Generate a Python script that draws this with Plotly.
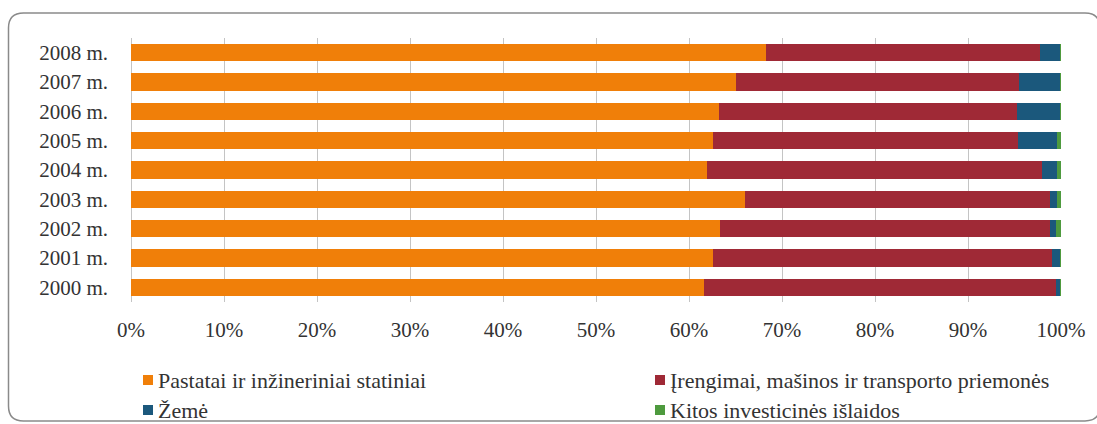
import plotly.graph_objects as go

# Investment structure by year (shares, %)
years = ["2000 m.", "2001 m.", "2002 m.", "2003 m.", "2004 m.",
         "2005 m.", "2006 m.", "2007 m.", "2008 m."]
series_names = [
    "Pastatai ir inžineriniai statiniai",
    "Įrengimai, mašinos ir transporto priemonės",
    "Žemė",
    "Kitos investicinės išlaidos",
]
pastatai = [61.6, 62.6, 63.3, 66.0, 61.9, 62.6, 63.2, 65.0, 68.3]
irengimai = [37.9, 36.4, 35.5, 32.8, 36.1, 32.8, 32.1, 30.5, 29.4]
zeme = [0.4, 0.9, 0.7, 0.8, 1.6, 4.2, 4.6, 4.4, 2.2]
kitos = [0.1, 0.1, 0.5, 0.4, 0.4, 0.4, 0.1, 0.1, 0.1]
x_ticks = [0, 10, 20, 30, 40, 50, 60, 70, 80, 90, 100]
x_tick_labels = ["0%", "10%", "20%", "30%", "40%", "50%",
                 "60%", "70%", "80%", "90%", "100%"]

colors = ["#F07F09", "#9F2936", "#1B587C", "#4E9A3E"]
values = [pastatai, irengimai, zeme, kitos]

W, H = 1097, 424
M_L, M_R, M_T, M_B = 131, 36, 38, 122
PW, PH = W - M_L - M_R, H - M_T - M_B

FONT = "Liberation Serif"
FS = 21
FS_LEG = 22
TXT = "#333333"

fig = go.Figure()
for name, vals, col in zip(series_names, values, colors):
    fig.add_trace(go.Bar(
        y=years, x=vals, name=name, orientation="h",
        marker=dict(color=col, line=dict(width=0)),
        showlegend=False,
    ))


def px_x(p):
    return (p - M_L) / PW


def px_y(p):
    return (M_T + PH - p) / PH


# Rounded outer frame
x0, y0, x1, y1, r = 8.5, 13, 1100, 421, 15
path = (
    f"M {px_x(x0)},{px_y(y0 + r)} "
    f"Q {px_x(x0)},{px_y(y0)} {px_x(x0 + r)},{px_y(y0)} "
    f"L {px_x(x1 - r)},{px_y(y0)} "
    f"Q {px_x(x1)},{px_y(y0)} {px_x(x1)},{px_y(y0 + r)} "
    f"L {px_x(x1)},{px_y(y1 - r)} "
    f"Q {px_x(x1)},{px_y(y1)} {px_x(x1 - r)},{px_y(y1)} "
    f"L {px_x(x0 + r)},{px_y(y1)} "
    f"Q {px_x(x0)},{px_y(y1)} {px_x(x0)},{px_y(y1 - r)} Z"
)
shapes = [dict(type="path", xref="paper", yref="paper", path=path,
               line=dict(color="#8a8a8a", width=1.5), layer="below")]

# Two-column legend: squares and labels
annotations = []
legend_pos = [(143, 380), (655, 380), (143, 410), (655, 410)]
for (lx, ly), name, col in zip(legend_pos, series_names, colors):
    shapes.append(dict(type="rect", xref="paper", yref="paper",
                       x0=px_x(lx), x1=px_x(lx + 10),
                       y0=px_y(ly + 5), y1=px_y(ly - 5),
                       fillcolor=col, line=dict(width=0)))
    annotations.append(dict(xref="paper", yref="paper",
                            x=px_x(lx + 13), y=px_y(ly),
                            xanchor="left", yanchor="middle",
                            text=name, showarrow=False,
                            font=dict(family=FONT, size=FS_LEG, color=TXT)))

fig.update_layout(
    width=W, height=H,
    margin=dict(l=M_L, r=M_R, t=M_T, b=M_B, pad=0),
    barmode="stack", bargap=0.42,
    plot_bgcolor="white", paper_bgcolor="white",
    font=dict(family=FONT, size=FS, color=TXT),
    shapes=shapes, annotations=annotations,
    xaxis=dict(range=[0, 100], tickvals=x_ticks, ticktext=x_tick_labels,
               showgrid=True, gridcolor="#c4c4c4", gridwidth=1,
               zeroline=True, zerolinecolor="#c4c4c4", zerolinewidth=1,
               showline=False, ticks="", ticklabelstandoff=13,
               tickfont=dict(family=FONT, size=FS, color=TXT),
               fixedrange=True),
    yaxis=dict(categoryorder="array", categoryarray=years,
               showgrid=False, showline=False, ticks="",
               ticklabelstandoff=22,
               tickfont=dict(family=FONT, size=FS, color=TXT),
               fixedrange=True),
)

fig.write_html("out.html")
